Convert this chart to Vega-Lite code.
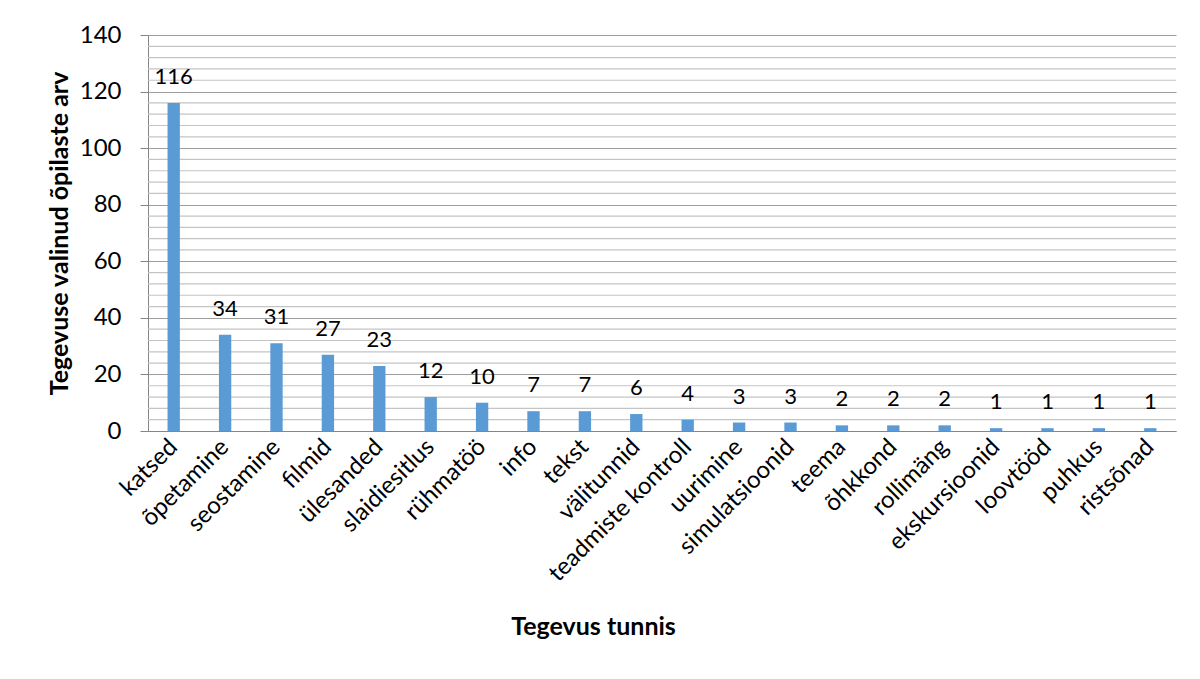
{
  "$schema": "https://vega.github.io/schema/vega-lite/v6.json",
  "width": 1028,
  "height": 396,
  "autosize": "none",
  "padding": {"left": 148, "top": 35, "right": 24, "bottom": 248},
  "background": "white",
  "config": {
    "view": {"stroke": null},
    "font": "Lato",
    "axisY": {
      "title": "Tegevuse valinud õpilaste arv",
      "titleFont": "Lato",
      "titleFontSize": 25,
      "titleFontWeight": "bold",
      "titleColor": "black",
      "titleAngle": -90,
      "titleX": -89,
      "titleY": 198,
      "titleAlign": "center",
      "titleBaseline": "middle",
      "tickCount": 7,
      "labelFont": "Lato",
      "labelFontSize": 24,
      "labelColor": "black",
      "labelPadding": 19,
      "tickSize": 8,
      "tickColor": "#868686",
      "grid": true,
      "gridColor": "#9e9e9e",
      "gridWidth": 1.2,
      "domainColor": "#868686",
      "domainWidth": 1
    }
  },
  "datasets": {
    "tegevused": [
      {"tegevus": "katsed", "arv": 116},
      {"tegevus": "õpetamine", "arv": 34},
      {"tegevus": "seostamine", "arv": 31},
      {"tegevus": "filmid", "arv": 27},
      {"tegevus": "ülesanded", "arv": 23},
      {"tegevus": "slaidiesitlus", "arv": 12},
      {"tegevus": "rühmatöö", "arv": 10},
      {"tegevus": "info", "arv": 7},
      {"tegevus": "tekst", "arv": 7},
      {"tegevus": "välitunnid", "arv": 6},
      {"tegevus": "teadmiste kontroll", "arv": 4},
      {"tegevus": "uurimine", "arv": 3},
      {"tegevus": "simulatsioonid", "arv": 3},
      {"tegevus": "teema", "arv": 2},
      {"tegevus": "õhkkond", "arv": 2},
      {"tegevus": "rollimäng", "arv": 2},
      {"tegevus": "ekskursioonid", "arv": 1},
      {"tegevus": "loovtööd", "arv": 1},
      {"tegevus": "puhkus", "arv": 1},
      {"tegevus": "ristsõnad", "arv": 1}
    ],
    "abijooned": [
      {"joon": 4}, {"joon": 8}, {"joon": 12}, {"joon": 16},
      {"joon": 24}, {"joon": 28}, {"joon": 32}, {"joon": 36},
      {"joon": 44}, {"joon": 48}, {"joon": 52}, {"joon": 56},
      {"joon": 64}, {"joon": 68}, {"joon": 72}, {"joon": 76},
      {"joon": 84}, {"joon": 88}, {"joon": 92}, {"joon": 96},
      {"joon": 104}, {"joon": 108}, {"joon": 112}, {"joon": 116},
      {"joon": 124}, {"joon": 128}, {"joon": 132}, {"joon": 136}
    ]
  },
  "layer": [
    {
      "data": {"name": "abijooned"},
      "mark": {"type": "rule", "color": "#c4c4c4", "strokeWidth": 1.2},
      "encoding": {
        "y": {
          "field": "joon",
          "type": "quantitative",
          "scale": {"domain": [0, 140], "nice": false},
          "title": "Tegevuse valinud õpilaste arv"
        }
      }
    },
    {
      "data": {"name": "tegevused"},
      "mark": {"type": "bar", "color": "#5B9BD5"},
      "encoding": {
        "x": {
          "field": "tegevus",
          "type": "nominal",
          "sort": null,
          "scale": {"paddingInner": 0.76, "paddingOuter": 0.38},
          "axis": {
            "title": "Tegevus tunnis",
            "titleFont": "Lato",
            "titleFontSize": 25,
            "titleFontWeight": "bold",
            "titleColor": "black",
            "titleX": 445,
            "titleY": 203,
            "titleAlign": "center",
            "titleBaseline": "alphabetic",
            "labelAngle": -45,
            "labelAlign": "right",
            "labelBaseline": "middle",
            "labelFont": "Lato",
            "labelFontSize": 24,
            "labelColor": "black",
            "labelPadding": 12,
            "labelLimit": 0,
            "ticks": false,
            "domainColor": "#868686",
            "domainWidth": 1,
            "labelOverlap": false
          }
        },
        "y": {
          "field": "arv",
          "type": "quantitative",
          "scale": {"domain": [0, 140], "nice": false},
          "title": "Tegevuse valinud õpilaste arv"
        }
      }
    },
    {
      "data": {"name": "tegevused"},
      "mark": {"type": "text", "baseline": "alphabetic", "dy": -19, "font": "Lato", "fontSize": 22, "color": "black"},
      "encoding": {
        "x": {"field": "tegevus", "type": "nominal", "sort": null},
        "y": {"field": "arv", "type": "quantitative", "title": "Tegevuse valinud õpilaste arv"},
        "text": {"field": "arv", "type": "quantitative"}
      }
    }
  ]
}
